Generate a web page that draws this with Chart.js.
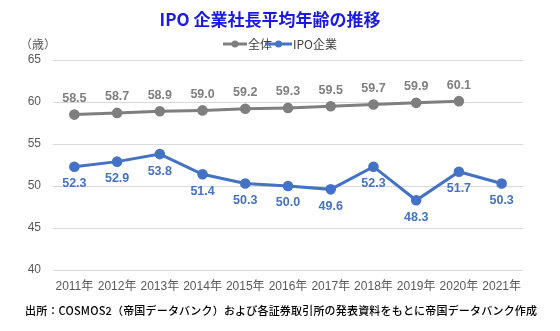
<!DOCTYPE html>
<html><head><meta charset="utf-8">
<script src="https://cdn.jsdelivr.net/npm/chart.js@4"></script>
<style>html,body{margin:0;padding:0;background:#fff}#wrap{width:560px;height:331px}</style>
</head><body><div id="wrap"><canvas id="c" width="560" height="331"></canvas></div>
<script>
const categories = ['2011年','2012年','2013年','2014年','2015年','2016年','2017年','2018年','2019年','2020年','2021年'];
const overall = [58.5,58.7,58.9,59.0,59.2,59.3,59.5,59.7,59.9,60.1,null];
const ipo = [52.3,52.9,53.8,51.4,50.3,50.0,49.6,52.3,48.3,51.7,50.3];
const seriesNames = ['全体','IPO企業'];
const titleText = 'IPO 企業社長平均年齢の推移';
const unitText = '（歳）';
const sourceText = '出所：COSMOS2（帝国データバンク）および各証券取引所の発表資料をもとに帝国データバンク作成';

const GRAY = '#7f7f7f', BLUE = '#4472c4';
const FONT = '"Liberation Sans", Arial, "Noto Sans CJK JP", sans-serif';

const extras = {
  id: 'extras',
  afterDatasetsDraw(chart) {
    const ctx = chart.ctx;
    chart.data.datasets.forEach((ds, di) => {
      const meta = chart.getDatasetMeta(di);
      meta.data.forEach((pt, i) => {
        const v = ds.data[i];
        if (v == null) return;
        ctx.save();
        ctx.font = 'bold 12.5px ' + FONT;
        ctx.fillStyle = ds.borderColor;
        ctx.textAlign = 'center';
        ctx.textBaseline = 'middle';
        const dy = di === 0 ? -16 : 17;
        ctx.fillText(v.toFixed(1), pt.x, pt.y + dy);
        ctx.restore();
      });
    });
  },
  afterDraw(chart) {
    const ctx = chart.ctx;
    ctx.save();
    ctx.font = 'bold 17px "Noto Sans CJK JP", sans-serif';
    ctx.fillStyle = '#1a1ae6';
    ctx.textAlign = 'center';
    ctx.textBaseline = 'middle';
    ctx.fillText(titleText, 270, 20);
    ctx.font = '12px "Noto Sans CJK JP", sans-serif';
    ctx.fillStyle = '#595959';
    ctx.textAlign = 'left';
    ctx.fillText(unitText, 20, 44);
    const items = [{x:223, w:24, c:GRAY, t:seriesNames[0]}, {x:265, w:27, c:BLUE, t:seriesNames[1]}];
    items.forEach(it => {
      ctx.strokeStyle = it.c; ctx.lineWidth = 3;
      ctx.beginPath(); ctx.moveTo(it.x, 44); ctx.lineTo(it.x + it.w, 44); ctx.stroke();
      ctx.fillStyle = it.c;
      ctx.beginPath(); ctx.arc(it.x + it.w/2, 44, 3.5, 0, Math.PI*2); ctx.fill();
      ctx.fillStyle = '#404040';
      ctx.font = '12px "Noto Sans CJK JP", sans-serif';
      ctx.textAlign = 'left';
      ctx.fillText(it.t, it.x + it.w + 1, 44);
    });
    ctx.font = '500 11px "Noto Sans CJK JP", sans-serif';
    ctx.fillStyle = '#000';
    const w = ctx.measureText(sourceText).width;
    const n = [...sourceText].length;
    const sp = Math.max(0, (512 - w) / (n - 1));
    ctx.letterSpacing = sp.toFixed(2) + 'px';
    ctx.textAlign = 'left';
    ctx.fillText(sourceText, 25, 311);
    ctx.restore();
  }
};

new Chart(document.getElementById('c'), {
  type: 'line',
  data: {
    labels: categories,
    datasets: [
      { label: seriesNames[0], data: overall, borderColor: GRAY, backgroundColor: GRAY, borderWidth: 3, pointRadius: 3.8, pointHoverRadius: 3.8, tension: 0 },
      { label: seriesNames[1], data: ipo, borderColor: BLUE, backgroundColor: BLUE, borderWidth: 3, pointRadius: 3.8, pointHoverRadius: 3.8, tension: 0 }
    ]
  },
  options: {
    responsive: false,
    animation: false,
    devicePixelRatio: 1,
    layout: { padding: { left: 0, right: 37, top: 60, bottom: 0 } },
    plugins: { legend: { display: false }, title: { display: false }, tooltip: { enabled: false } },
    scales: {
      x: {
        offset: true,
        grid: { display: false, drawTicks: false },
        border: { display: false },
        ticks: { color: '#595959', font: { size: 12, family: FONT }, padding: 9, maxRotation: 0, autoSkip: false },
        afterFit(s) { s.height = 61; }
      },
      y: {
        min: 40, max: 65,
        ticks: { stepSize: 5, color: '#595959', font: { size: 12, family: FONT }, padding: 12 },
        grid: { color: '#d9d9d9', drawTicks: false, lineWidth: 1 },
        border: { display: false },
        afterFit(s) { s.width = 53; }
      }
    }
  },
  plugins: [extras]
});
</script>
</body></html>
